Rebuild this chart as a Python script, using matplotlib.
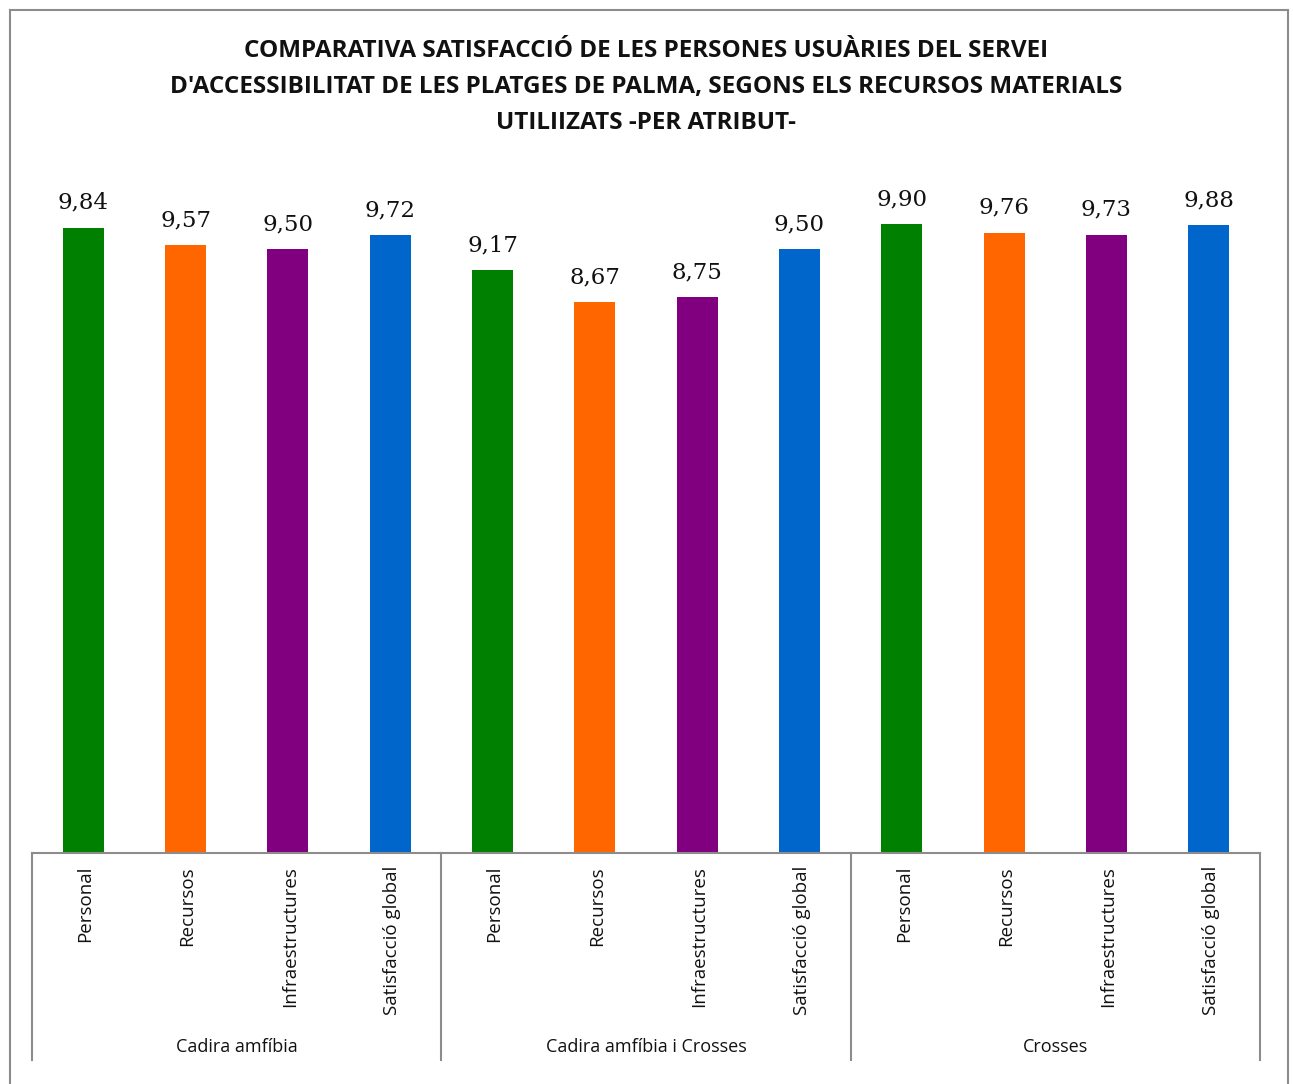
import matplotlib
matplotlib.use("Agg")
import matplotlib.pyplot as plt
import matplotlib.transforms as mtransforms
from matplotlib.lines import Line2D

groups = ["Cadira amfíbia", "Cadira amfíbia i Crosses", "Crosses"]
attributes = ["Personal", "Recursos", "Infraestructures", "Satisfacció global"]
values_cadira = [9.84, 9.57, 9.50, 9.72]
values_cadira_crosses = [9.17, 8.67, 8.75, 9.50]
values_crosses = [9.90, 9.76, 9.73, 9.88]
attr_colors = ["#008000", "#FF6600", "#800080", "#0066CC"]

title = ("COMPARATIVA SATISFACCIÓ DE LES PERSONES USUÀRIES DEL SERVEI\n"
         "D'ACCESSIBILITAT DE LES PLATGES DE PALMA, SEGONS ELS RECURSOS MATERIALS\n"
         "UTILIIZATS -PER ATRIBUT-")

W, H = 1293, 1084
fig = plt.figure(figsize=(W / 100, H / 100), dpi=100)
fig.patch.set_facecolor("white")

ax_left, ax_right = 32 / W, 1260 / W
ax_bottom_px, ax_top_px = 852.7, 154
ax = fig.add_axes([ax_left, 1 - ax_bottom_px / H, ax_right - ax_left,
                   (ax_bottom_px - ax_top_px) / H])
axh = ax_bottom_px - ax_top_px

all_values = [values_cadira, values_cadira_crosses, values_crosses]
xs, vals, cols, labs = [], [], [], []
i = 0
for gvals in all_values:
    for j, v in enumerate(gvals):
        xs.append(i)
        vals.append(v)
        cols.append(attr_colors[j])
        labs.append(attributes[j])
        i += 1

bars = ax.bar(xs, vals, width=0.4, color=cols, edgecolor="none")
for b, v in zip(bars, vals):
    ax.annotate(f"{v:.2f}".replace(".", ","),
                (b.get_x() + b.get_width() / 2, b.get_height()),
                xytext=(0, 10), textcoords="offset points",
                ha="center", va="bottom", fontsize=16.5, family="DejaVu Serif",
                color="#111111")

n = len(xs)
ax.set_xlim(-0.5, n - 0.5)
ax.set_ylim(0, 11)
for s in ["left", "right", "top"]:
    ax.spines[s].set_visible(False)
ax.spines["bottom"].set_color("#8c8c8c")
ax.spines["bottom"].set_linewidth(1.5)
ax.set_xticks([])
ax.set_yticks([])

trans = mtransforms.blended_transform_factory(ax.transData, ax.transAxes)
lab_top = -(866 - ax_bottom_px) / axh
grp_y = -(1047 - ax_bottom_px) / axh
line_bottom = -(1060 - ax_bottom_px) / axh

for x, lab in zip(xs, labs):
    ax.text(x + 0.02, lab_top, lab, rotation=90, ha="center", va="top",
            transform=trans, fontsize=13.5, family="Open Sans", color="#111111")

ng = len(attributes)
for g, gname in enumerate(groups):
    center = g * ng + (ng - 1) / 2
    ax.text(center, grp_y, gname, ha="center", va="center", transform=trans,
            fontsize=13, family="Open Sans", color="#111111")

for k in range(len(groups) + 1):
    xb = k * ng - 0.5
    ax.add_line(Line2D([xb, xb], [0, line_bottom], transform=trans,
                       color="#8c8c8c", lw=1.5, clip_on=False))

fig.text(0.5, 1 - 87 / H, title, ha="center", va="center", fontsize=17.5,
         fontweight="bold", family="Open Sans", linespacing=1.65, color="#111111")

# outer chart border
bl, bt, br = 9.5 / W, 1 - 9.5 / H, 1288 / W
for xx, yy in [([bl, bl], [0, bt]), ([bl, br], [bt, bt]), ([br, br], [0, bt])]:
    fig.add_artist(Line2D(xx, yy, transform=fig.transFigure, color="#8c8c8c", lw=1.5))

fig.savefig("out.png", dpi=100)
